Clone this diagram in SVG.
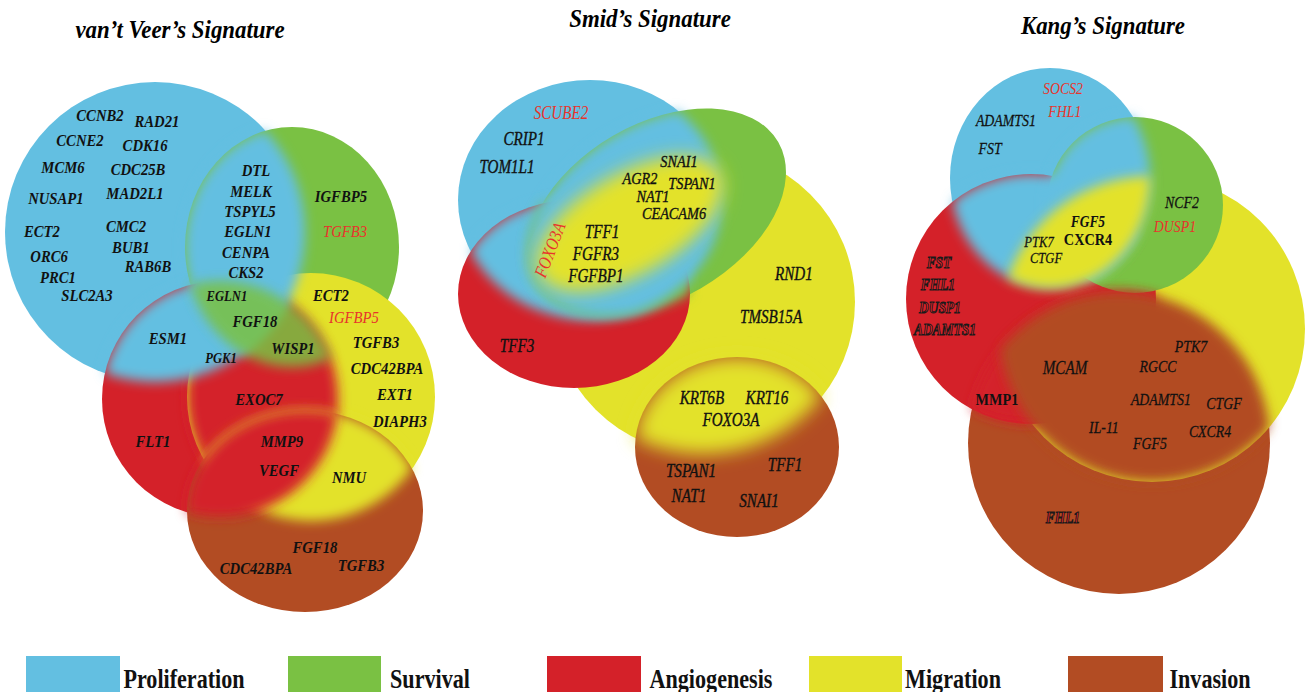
<svg xmlns="http://www.w3.org/2000/svg" xmlns:xlink="http://www.w3.org/1999/xlink" width="1307" height="692" viewBox="0 0 1307 692">
<style>
  text { font-family: "Liberation Serif", "Times New Roman", serif; text-anchor: middle; transform-box: fill-box; transform-origin: center; }
  .title { font-size: 26px; font-weight: bold; font-style: italic; fill: #000; transform: scaleX(0.88); }
  .v { font-size: 17.5px; font-weight: bold; font-style: italic; fill: #111; transform: scaleX(0.84); }
  .v.sm { font-size: 15px; }
  .s { font-size: 18px; font-style: italic; fill: #111; stroke: #111; stroke-width: 0.35px; transform: scaleX(0.84); }
  .s.sm { font-size: 17px; }
  .k { font-size: 16.5px; font-style: italic; fill: #111; stroke: #111; stroke-width: 0.25px; transform: scaleX(0.84); }
  .k.sm { font-size: 15px; }
  .kb { font-size: 17px; font-weight: bold; fill: #111; transform: scaleX(0.84); }
  .kbi { font-size: 16px; font-weight: bold; font-style: italic; fill: #111; transform: scaleX(0.84); }
  .red { fill: #E8342C; stroke: none; font-weight: normal; }
  .out { font-size: 16px; font-weight: bold; font-style: italic; fill: #E0232A; stroke: #1a1a1a; stroke-width: 1px; transform: scaleX(0.84); }
  .leg { font-size: 27px; font-weight: bold; fill: #111; transform: scaleX(0.82); }
  .bl { fill: #63BFE1; } .gr { fill: #7AC143; } .rd { fill: #D42129; } .yl { fill: #E3E22A; } .br { fill: #B24C23; }
</style>
<defs>
  <filter id="soft" x="-25%" y="-25%" width="150%" height="150%"><feGaussianBlur stdDeviation="6"/></filter>
  <filter id="soft2" x="-25%" y="-25%" width="150%" height="150%"><feGaussianBlur stdDeviation="9"/></filter>
  <!-- van't Veer shapes -->
  <circle id="vB" cx="155" cy="232" r="150"/>
  <ellipse id="vG" cx="292" cy="247" rx="107" ry="120"/>
  <circle id="vR" cx="220" cy="399" r="118"/>
  <circle id="vY" cx="311" cy="397" r="124"/>
  <ellipse id="vN" cx="305" cy="511" rx="118" ry="101"/>
  <!-- Smid shapes -->
  <ellipse id="sB" cx="590" cy="200" rx="132" ry="120"/>
  <ellipse id="sG" cx="657" cy="212" rx="140" ry="88" transform="rotate(-30 657 212)"/>
  <ellipse id="sR" cx="574" cy="294" rx="116" ry="94"/>
  <circle id="sY" cx="703" cy="302" r="152"/>
  <ellipse id="sN" cx="737" cy="447" rx="102" ry="90"/>
  <ellipse id="sBlob" cx="630" cy="224" rx="104" ry="50" transform="rotate(-30 630 224)"/>
  <!-- Kang shapes -->
  <ellipse id="kB" cx="1050" cy="178" rx="100" ry="110"/>
  <circle id="kG" cx="1135" cy="205" r="88"/>
  <circle id="kR" cx="1031" cy="299" r="125"/>
  <circle id="kY" cx="1152" cy="329" r="153"/>
  <circle id="kN" cx="1119" cy="443" r="151"/>
  <clipPath id="c-vB"><use href="#vB"/></clipPath>
  <clipPath id="c-vG"><use href="#vG"/></clipPath>
  <clipPath id="c-vR"><use href="#vR"/></clipPath>
  <clipPath id="c-vY"><use href="#vY"/></clipPath>
  <clipPath id="c-vN"><use href="#vN"/></clipPath>
  <clipPath id="c-sB"><use href="#sB"/></clipPath>
  <clipPath id="c-sG"><use href="#sG"/></clipPath>
  <clipPath id="c-sR"><use href="#sR"/></clipPath>
  <clipPath id="c-sY"><use href="#sY"/></clipPath>
  <clipPath id="c-sN"><use href="#sN"/></clipPath>
  <clipPath id="c-kB"><use href="#kB"/></clipPath>
  <clipPath id="c-kG"><use href="#kG"/></clipPath>
  <clipPath id="c-kR"><use href="#kR"/></clipPath>
  <clipPath id="c-kY"><use href="#kY"/></clipPath>
  <clipPath id="c-kN"><use href="#kN"/></clipPath>
</defs>
<rect width="1307" height="692" fill="#fff"/>

<!-- ============ van't Veer ============ -->
<g id="vanteer">
  <text class="title" x="180" y="38">van’t Veer’s Signature</text>
  <g id="vanteer-sets">
    <use id="vanteer-proliferation" href="#vB" class="bl"/>
    <use id="vanteer-survival" href="#vG" class="gr"/>
    <use id="vanteer-angiogenesis" href="#vR" class="rd"/>
    <use id="vanteer-migration" href="#vY" class="yl"/>
    <use id="vanteer-invasion" href="#vN" class="br"/>
  </g>
  <g id="vanteer-blends">
    <g filter="url(#soft)"><g clip-path="url(#c-vY)"><use href="#vR" class="rd"/></g></g>
    <g filter="url(#soft)"><g clip-path="url(#c-vN)"><use href="#vY" class="yl"/></g></g>
    <g filter="url(#soft)"><g clip-path="url(#c-vN)"><use href="#vR" class="rd"/></g></g>
    <g filter="url(#soft)"><g clip-path="url(#c-vR)"><use href="#vB" class="bl"/></g></g>
    <g filter="url(#soft)"><g clip-path="url(#c-vG)"><use href="#vB" class="bl"/></g></g>
    <g filter="url(#soft)" opacity="0.85"><g clip-path="url(#c-vR)"><use href="#vG" class="gr"/></g></g>
  </g>
  <g id="vanteer-labels">
    <text class="v" x="100" y="121">CCNB2</text>
    <text class="v" x="157" y="127">RAD21</text>
    <text class="v" x="80" y="146">CCNE2</text>
    <text class="v" x="145" y="151">CDK16</text>
    <text class="v" x="63" y="173">MCM6</text>
    <text class="v" x="138" y="175">CDC25B</text>
    <text class="v" x="56" y="204">NUSAP1</text>
    <text class="v" x="135" y="199">MAD2L1</text>
    <text class="v" x="42" y="237">ECT2</text>
    <text class="v" x="126" y="232">CMC2</text>
    <text class="v" x="131" y="253">BUB1</text>
    <text class="v" x="49" y="262">ORC6</text>
    <text class="v" x="148" y="272">RAB6B</text>
    <text class="v" x="58" y="283">PRC1</text>
    <text class="v" x="87" y="301">SLC2A3</text>
    <text class="v" x="256" y="176">DTL</text>
    <text class="v" x="251" y="197">MELK</text>
    <text class="v" x="250" y="217">TSPYL5</text>
    <text class="v" x="248" y="237">EGLN1</text>
    <text class="v" x="246" y="258">CENPA</text>
    <text class="v" x="246" y="278">CKS2</text>
    <text class="v" x="341" y="202">IGFBP5</text>
    <text class="v red" x="345" y="237">TGFB3</text>
    <text class="v sm" x="227" y="301">EGLN1</text>
    <text class="v" x="331" y="301">ECT2</text>
    <text class="v" x="255" y="327">FGF18</text>
    <text class="v red" x="354" y="323">IGFBP5</text>
    <text class="v" x="168" y="344">ESM1</text>
    <text class="v" x="293" y="354">WISP1</text>
    <text class="v" x="376" y="348">TGFB3</text>
    <text class="v sm" x="221" y="363">PGK1</text>
    <text class="v" x="387" y="374">CDC42BPA</text>
    <text class="v" x="259" y="405">EXOC7</text>
    <text class="v" x="395" y="400">EXT1</text>
    <text class="v" x="400" y="427">DIAPH3</text>
    <text class="v" x="153" y="447">FLT1</text>
    <text class="v" x="282" y="447">MMP9</text>
    <text class="v" x="279" y="476">VEGF</text>
    <text class="v" x="349" y="483">NMU</text>
    <text class="v" x="315" y="553">FGF18</text>
    <text class="v" x="256" y="574">CDC42BPA</text>
    <text class="v" x="361" y="571">TGFB3</text>
  </g>
</g>

<!-- ============ Smid ============ -->
<g id="smid">
  <text class="title" x="650" y="27">Smid’s Signature</text>
  <g id="smid-sets">
    <use id="smid-migration" href="#sY" class="yl"/>
    <use id="smid-proliferation" href="#sB" class="bl"/>
    <use id="smid-survival" href="#sG" class="gr"/>
    <use id="smid-angiogenesis" href="#sR" class="rd"/>
    <use id="smid-invasion" href="#sN" class="br"/>
  </g>
  <g id="smid-blends">
    <g filter="url(#soft)"><g clip-path="url(#c-sR)"><use href="#sB" class="bl"/></g></g>
    <g filter="url(#soft)"><g clip-path="url(#c-sR)"><use href="#sG" class="gr"/></g></g>
    <g filter="url(#soft)"><g clip-path="url(#c-sG)"><use href="#sB" class="bl"/></g></g>
    <g filter="url(#soft2)"><g clip-path="url(#c-sG)"><use href="#sBlob" class="yl"/></g></g>
    <g filter="url(#soft2)"><g clip-path="url(#c-sN)"><use href="#sY" class="yl"/></g></g>
  </g>
  <g id="smid-labels">
    <text class="s red" x="561" y="119">SCUBE2</text>
    <text class="s" x="524" y="145">CRIP1</text>
    <text class="s" x="507" y="173">TOM1L1</text>
    <text class="s sm" x="679" y="167">SNAI1</text>
    <text class="s sm" x="640" y="184">AGR2</text>
    <text class="s sm" x="692" y="189">TSPAN1</text>
    <text class="s sm" x="653" y="202">NAT1</text>
    <text class="s sm" x="674" y="219">CEACAM6</text>
    <text class="s" x="602" y="238">TFF1</text>
    <text class="s" x="596" y="260">FGFR3</text>
    <text class="s" x="596" y="282">FGFBP1</text>
    <text x="0" y="6" transform="translate(550,250) rotate(-69) scale(0.84,1)" style="font-size:18px;font-style:italic;fill:#E8342C">FOXO3A</text>
    <text class="s" x="794" y="280">RND1</text>
    <text class="s" x="771" y="323">TMSB15A</text>
    <text class="s" x="517" y="352">TFF3</text>
    <text class="s" x="702" y="404">KRT6B</text>
    <text class="s" x="767" y="404">KRT16</text>
    <text class="s" x="731" y="426">FOXO3A</text>
    <text class="s" x="691" y="477">TSPAN1</text>
    <text class="s" x="785" y="471">TFF1</text>
    <text class="s" x="689" y="502">NAT1</text>
    <text class="s" x="759" y="507">SNAI1</text>
  </g>
</g>

<!-- ============ Kang ============ -->
<g id="kang">
  <text class="title" x="1103" y="34">Kang’s Signature</text>
  <g id="kang-sets">
    <use id="kang-invasion" href="#kN" class="br"/>
    <use id="kang-migration" href="#kY" class="yl"/>
    <use id="kang-proliferation" href="#kB" class="bl"/>
    <use id="kang-angiogenesis" href="#kR" class="rd"/>
    <use id="kang-survival" href="#kG" class="gr"/>
  </g>
  <g id="kang-blends">
    <g filter="url(#soft)"><g clip-path="url(#c-kN)"><use href="#kR" class="rd"/></g></g>
    <g filter="url(#soft)"><g clip-path="url(#c-kY)"><use href="#kN" class="br"/></g></g>
    <g filter="url(#soft)"><g clip-path="url(#c-kR)"><use href="#kB" class="bl"/></g></g>
    <g filter="url(#soft)"><g clip-path="url(#c-kG)"><use href="#kB" class="bl"/></g></g>
    <g filter="url(#soft)"><g clip-path="url(#c-kY)"><g clip-path="url(#c-kB)"><use href="#kG" class="yl"/><use href="#kR" class="yl"/></g></g></g>
  </g>
  <g id="kang-labels">
    <text class="k red" x="1063" y="94">SOCS2</text>
    <text class="k red" x="1065" y="117">FHL1</text>
    <text class="k" x="1006" y="126">ADAMTS1</text>
    <text class="k" x="990" y="154">FST</text>
    <text class="k" x="1182" y="208">NCF2</text>
    <text class="k red" x="1175" y="232">DUSP1</text>
    <text class="kbi" x="1088" y="227">FGF5</text>
    <text class="kb" x="1088" y="245">CXCR4</text>
    <text class="k sm" x="1039" y="247">PTK7</text>
    <text class="k sm" x="1046" y="263">CTGF</text>
    <text class="out" x="939" y="268">FST</text>
    <text class="out" x="938" y="290">FHL1</text>
    <text class="out" x="940" y="313">DUSP1</text>
    <text class="out" x="945" y="335">ADAMTS1</text>
    <text class="k" x="1191" y="352">PTK7</text>
    <text class="k" x="1065" y="374" style="font-size:18px">MCAM</text>
    <text class="k" x="1158" y="372">RGCC</text>
    <text class="kb" x="997" y="405">MMP1</text>
    <text class="k" x="1161" y="405">ADAMTS1</text>
    <text class="k" x="1224" y="409">CTGF</text>
    <text class="k" x="1104" y="433">IL-11</text>
    <text class="k" x="1210" y="437">CXCR4</text>
    <text class="k" x="1150" y="449">FGF5</text>
    <text class="out" x="1063" y="523">FHL1</text>
  </g>
</g>

<!-- ============ Legend ============ -->
<g id="legend">
  <g id="legend-proliferation"><rect x="26" y="656" width="94" height="36" class="bl"/><text class="leg" x="184" y="688">Proliferation</text></g>
  <g id="legend-survival"><rect x="288" y="656" width="93" height="36" class="gr"/><text class="leg" x="430" y="688">Survival</text></g>
  <g id="legend-angiogenesis"><rect x="547" y="656" width="94" height="36" class="rd"/><text class="leg" x="711" y="688">Angiogenesis</text></g>
  <g id="legend-migration"><rect x="809" y="656" width="93" height="36" class="yl"/><text class="leg" x="953" y="688">Migration</text></g>
  <g id="legend-invasion"><rect x="1068" y="656" width="95" height="36" class="br"/><text class="leg" x="1210" y="688">Invasion</text></g>
</g>
<g id="connectors"/>
</svg>
